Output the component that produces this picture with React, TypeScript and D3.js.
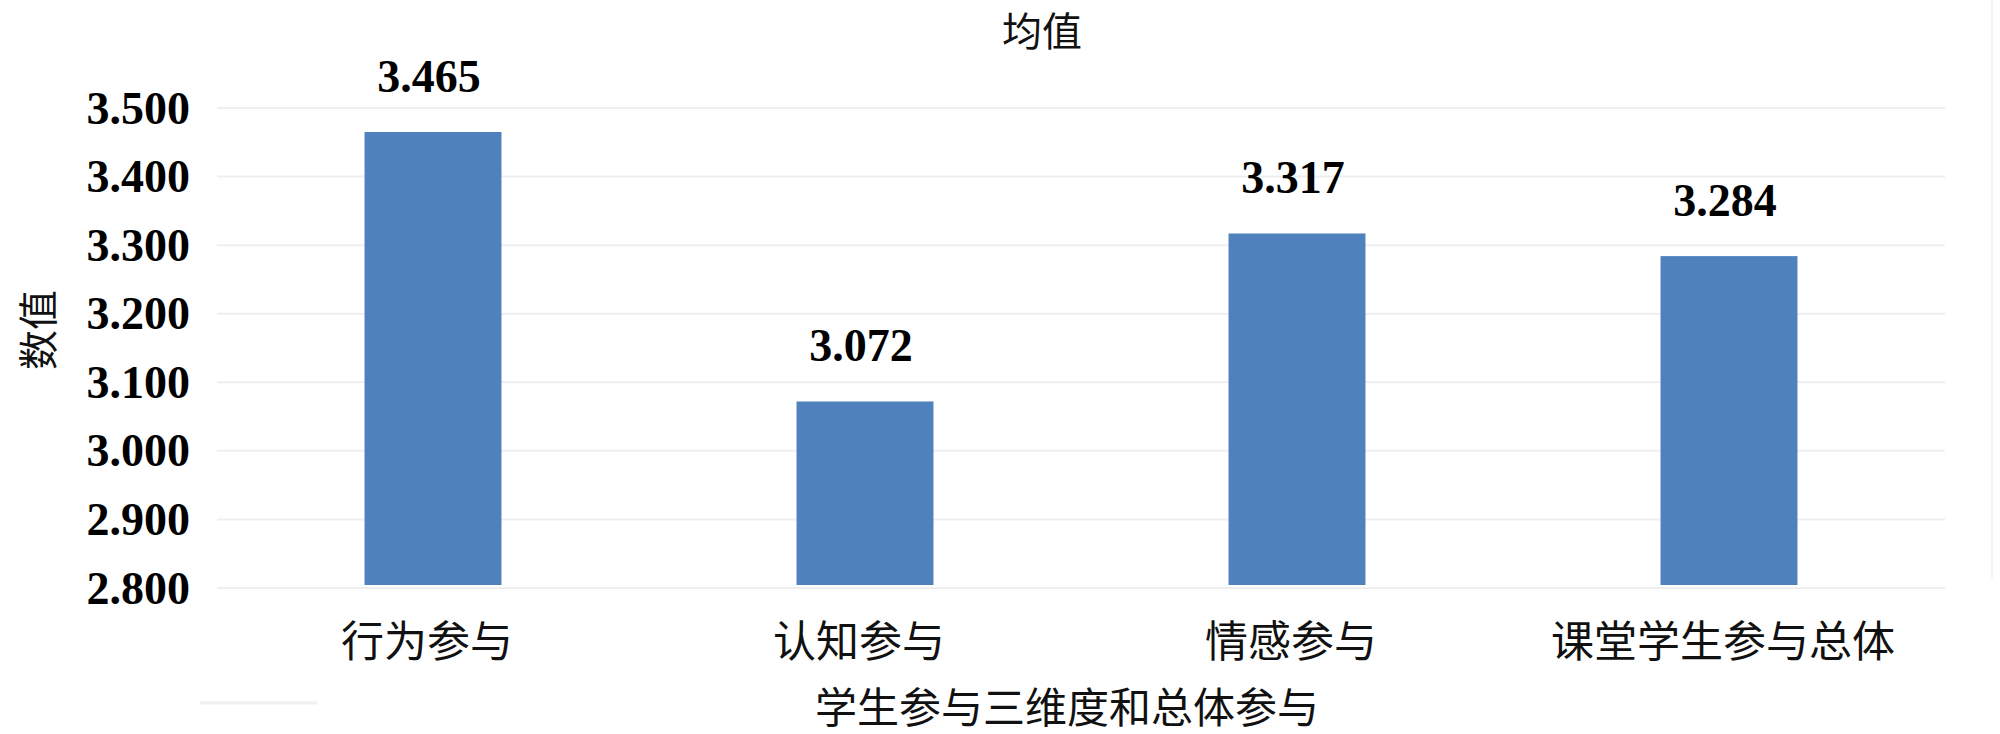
import React from "react";
import * as d3 from "d3";

const categories = ["行为参与", "认知参与", "情感参与", "课堂学生参与总体"];
const values = [3.465, 3.072, 3.317, 3.284];
const yTicks = [2.8, 2.9, 3.0, 3.1, 3.2, 3.3, 3.4, 3.5];
const chartTitle = "均值";
const xTitle = "学生参与三维度和总体参与";
const yTitle = "数值";

const W = 2000;
const H = 734;
const plotLeft = 217;
const plotRight = 1945;
const plotTop = 108;
const plotBottom = 588;

const serif = "'Times New Roman', 'Liberation Serif', 'DejaVu Serif', serif";
const cjk = "'Noto Sans CJK SC', 'Liberation Serif', serif";

export default function App() {
  const x = d3
    .scaleBand<string>()
    .domain(categories)
    .range([plotLeft, plotRight])
    .paddingInner(0.683)
    .paddingOuter(0.3415);
  const y = d3.scaleLinear().domain([2.8, 3.5]).range([plotBottom, plotTop]);
  const fmt = d3.format(".3f");

  return (
    <svg
      width={W}
      height={H}
      style={{ position: "absolute", left: 0, top: 0, background: "#fff" }}
    >
      <rect x={0} y={0} width={W} height={H} fill="#fff" />
      {/* faint chart border remnants */}
      <line x1={1992} x2={1992} y1={0} y2={578} stroke="#f3f3f3" strokeWidth={2} />
      <line x1={200} x2={317} y1={703} y2={703} stroke="#f0f0f0" strokeWidth={3} />

      {/* gridlines */}
      {yTicks.map((t) => (
        <line
          key={"g" + t}
          x1={plotLeft}
          x2={plotRight}
          y1={y(t)}
          y2={y(t)}
          stroke="#efefef"
          strokeWidth={2}
        />
      ))}

      {/* y tick labels */}
      {yTicks.map((t) => (
        <text
          key={"t" + t}
          x={190}
          y={y(t)}
          textAnchor="end"
          dominantBaseline="central"
          fontFamily={serif}
          fontWeight="bold"
          fontSize={46}
          fill="#000"
        >
          {fmt(t)}
        </text>
      ))}

      {/* bars */}
      {categories.map((c, i) => (
        <rect
          key={"b" + c}
          x={x(c)}
          y={y(values[i])}
          width={x.bandwidth()}
          height={y(2.8) - y(values[i]) - 3}
          fill="#4F81BD"
        />
      ))}

      {/* value labels */}
      {categories.map((c, i) => (
        <text
          key={"v" + c}
          x={(x(c) as number) + x.bandwidth() / 2 - 4}
          y={y(values[i]) - 40}
          textAnchor="middle"
          fontFamily={serif}
          fontWeight="bold"
          fontSize={46}
          fill="#000"
        >
          {fmt(values[i])}
        </text>
      ))}

      {/* category labels */}
      {categories.map((c) => (
        <text
          key={"c" + c}
          x={(x(c) as number) + x.bandwidth() / 2 - 6}
          y={638}
          textAnchor="middle"
          dominantBaseline="central"
          fontFamily={cjk}
          fontSize={43}
          fill="#111"
        >
          {c}
        </text>
      ))}

      {/* titles */}
      <text
        x={1042}
        y={29}
        textAnchor="middle"
        dominantBaseline="central"
        fontFamily={cjk}
        fontSize={40}
        fill="#111"
      >
        {chartTitle}
      </text>
      <text
        x={1067}
        y={704}
        textAnchor="middle"
        dominantBaseline="central"
        fontFamily={cjk}
        fontSize={42}
        fill="#111"
      >
        {xTitle}
      </text>
      <text
        transform={`translate(36,330) rotate(-90)`}
        textAnchor="middle"
        dominantBaseline="central"
        fontFamily={cjk}
        fontSize={40}
        fill="#111"
      >
        {yTitle}
      </text>
    </svg>
  );
}
